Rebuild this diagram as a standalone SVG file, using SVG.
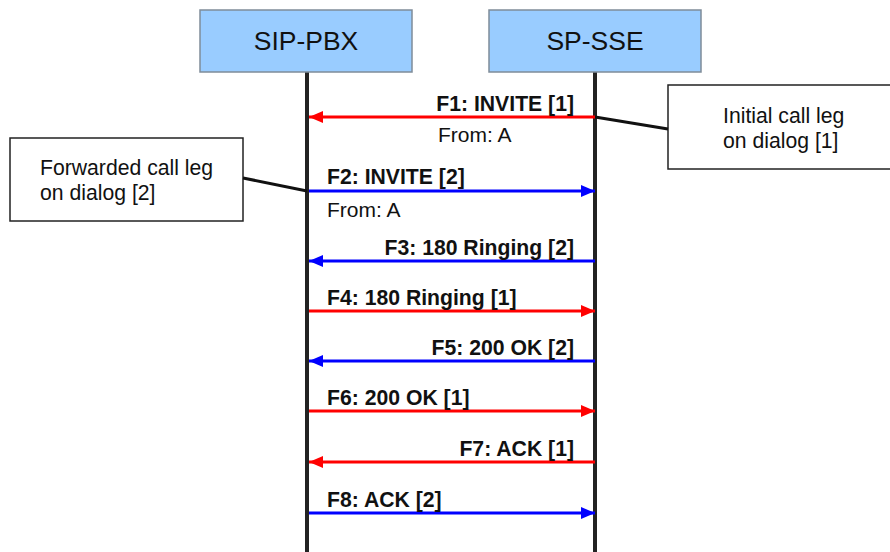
<svg xmlns="http://www.w3.org/2000/svg" width="890" height="552" viewBox="0 0 890 552">
<style>
.actor{fill:#99ccff;stroke:#7f8c99;stroke-width:1.5}
.actor-t{font-family:"Liberation Sans",Arial,sans-serif;font-size:26.5px;fill:#111;text-anchor:middle}
.life{stroke:#222;stroke-width:4}
.note{fill:#fff;stroke:#222;stroke-width:1.5}
.note-t{font-family:"Liberation Sans",Arial,sans-serif;font-size:21.2px;fill:#111}
.lbl{font-family:"Liberation Sans",Arial,sans-serif;font-size:21.2px;font-weight:bold;fill:#111}
.sub{font-family:"Liberation Sans",Arial,sans-serif;font-size:21px;fill:#111}
.r{stroke:#ff0000;stroke-width:3;fill:none}
.b{stroke:#0000ff;stroke-width:3;fill:none}
.lead{stroke:#111;stroke-width:3;fill:none}
.end{text-anchor:end}
</style>
<defs>
<marker id="ar" viewBox="0 0 14 12" refX="14" refY="6" markerWidth="14" markerHeight="12" markerUnits="userSpaceOnUse" orient="auto"><path d="M0,0 L14,6 L0,12 Z" fill="#ff0000"/></marker>
<marker id="ab" viewBox="0 0 14 12" refX="14" refY="6" markerWidth="14" markerHeight="12" markerUnits="userSpaceOnUse" orient="auto"><path d="M0,0 L14,6 L0,12 Z" fill="#0000ff"/></marker>
</defs>
<rect width="890" height="552" fill="#fff"/>
<g id="sip-pbx">
<line class="life" x1="307" y1="72" x2="307" y2="552"/>
<rect class="actor" x="200" y="10" width="212" height="62"/>
<text class="actor-t" x="306" y="50">SIP-PBX</text>
</g>
<g id="sp-sse">
<line class="life" x1="595" y1="72" x2="595" y2="552"/>
<rect class="actor" x="489" y="10" width="212" height="62"/>
<text class="actor-t" x="595" y="50">SP-SSE</text>
</g>
<g id="note-initial">
<rect class="note" x="668" y="85" width="224" height="84"/>
<text class="note-t" x="723" y="123">Initial call leg</text>
<text class="note-t" x="723" y="148">on dialog [1]</text>
</g>
<g id="note-forwarded">
<rect class="note" x="10" y="138" width="233" height="83"/>
<text class="note-t" x="40" y="175">Forwarded call leg</text>
<text class="note-t" x="40" y="200">on dialog [2]</text>
</g>
<g id="connectors">
<line class="lead" x1="595" y1="117" x2="668" y2="129"/>
<line class="lead" x1="243" y1="178" x2="307" y2="191"/>
<line class="r" x1="595" y1="117" x2="309" y2="117" marker-end="url(#ar)"/>
<text class="lbl end" x="574" y="111">F1: INVITE [1]</text>
<text class="sub" x="438" y="142">From: A</text>
<line class="b" x1="309" y1="191" x2="595" y2="191" marker-end="url(#ab)"/>
<text class="lbl" x="327" y="184">F2: INVITE [2]</text>
<text class="sub" x="327" y="217">From: A</text>
<line class="b" x1="595" y1="261" x2="309" y2="261" marker-end="url(#ab)"/>
<text class="lbl end" x="574" y="255">F3: 180 Ringing [2]</text>
<line class="r" x1="309" y1="311" x2="595" y2="311" marker-end="url(#ar)"/>
<text class="lbl" x="327" y="305">F4: 180 Ringing [1]</text>
<line class="b" x1="595" y1="361" x2="309" y2="361" marker-end="url(#ab)"/>
<text class="lbl end" x="574" y="355">F5: 200 OK [2]</text>
<line class="r" x1="309" y1="411" x2="595" y2="411" marker-end="url(#ar)"/>
<text class="lbl" x="327" y="405">F6: 200 OK [1]</text>
<line class="r" x1="595" y1="462" x2="309" y2="462" marker-end="url(#ar)"/>
<text class="lbl end" x="574" y="456">F7: ACK [1]</text>
<line class="b" x1="309" y1="513" x2="595" y2="513" marker-end="url(#ab)"/>
<text class="lbl" x="327" y="507">F8: ACK [2]</text>
</g>
</svg>
